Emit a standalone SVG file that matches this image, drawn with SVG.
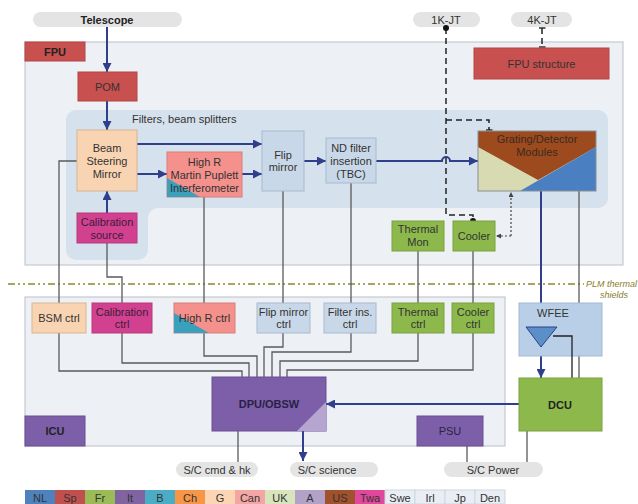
<svg xmlns="http://www.w3.org/2000/svg" width="638" height="504" viewBox="0 0 638 504">
<style>
text{font-family:"Liberation Sans",Arial,sans-serif;fill:#333;text-anchor:middle;dominant-baseline:central;font-size:11px}
text.st{text-anchor:start}
.b{font-weight:bold;fill:#222}
.area{fill:#edf1f6;stroke:#c5c9cf;stroke-width:1.2}
.pill{fill:#e4e4e4}
.red{fill:#c8504e;stroke:#b04645}
.peach{fill:#f9d4b2;stroke:#d9b594}
.mag{fill:#d2418f;stroke:#b8387c}
.sal{fill:#f4918c;stroke:#d97d79}
.teal{fill:#3aa1bd}
.lb{fill:#c9d8e8;stroke:#a9bace}
.grn{fill:#8db94c;stroke:#7aa13f}
.pur{fill:#7c5fa8;stroke:#6a4f93}
.g{fill:none;stroke:#5a5a5a;stroke-width:1.3}
.k{fill:none;stroke:#222;stroke-width:1.3}
.bl{fill:none;stroke:#2f3f8c;stroke-width:2}
.dash{fill:none;stroke:#222;stroke-width:1.5;stroke-dasharray:6 4}
.dot{fill:none;stroke:#444;stroke-width:1.2;stroke-dasharray:2 2}
.plm{fill:none;stroke:#8a8a2c;stroke-width:1.5;stroke-dasharray:7 3 2 3 2 3}
.plmt{font-size:9px;font-style:italic;fill:#8a7d2a}
.lg{stroke:#cfd6df;stroke-width:1}
</style>
<defs>
<marker id="ab" viewBox="0 0 10 10" refX="10" refY="5" markerWidth="9" markerHeight="9" markerUnits="userSpaceOnUse" orient="auto"><path d="M0,0 L10,5 L0,10 z" fill="#2f3f8c"/></marker>
<marker id="sa" viewBox="0 0 10 10" refX="10" refY="5" markerWidth="5" markerHeight="5" markerUnits="userSpaceOnUse" orient="auto"><path d="M0,0 L10,5 L0,10 z" fill="#444"/></marker>
<marker id="dt" viewBox="0 0 10 10" refX="5" refY="5" markerWidth="6" markerHeight="6" markerUnits="userSpaceOnUse"><circle cx="5" cy="5" r="5" fill="#111"/></marker>
<marker id="tb" viewBox="0 0 10 10" refX="5" refY="5" markerWidth="7" markerHeight="7" markerUnits="userSpaceOnUse" orient="auto"><path d="M5,0 V10" stroke="#222" stroke-width="2"/></marker>
</defs>

<!-- areas -->
<g id="fpu">
<rect class="area" x="25" y="42" width="598" height="223"/>
<rect class="red" x="25" y="42" width="60" height="19"/>
<text class="b" x="55" y="52" font-size="12">FPU</text>
</g>
<g id="filters">
<path d="M76,110 H598 A10,10 0 0 1 608,120 V198 A10,10 0 0 1 598,208 H158 A10,10 0 0 0 148,218 V250 A10,10 0 0 1 138,260 H76 A10,10 0 0 1 66,250 V120 A10,10 0 0 1 76,110 Z" fill="#d5e1ec"/>
<text class="st" x="132" y="119">Filters, beam splitters</text>
</g>
<g id="icu">
<rect class="area" x="25" y="297" width="480" height="149"/>
<rect class="pur" x="25" y="416" width="60" height="30"/>
<text class="b" x="55" y="431" font-size="12">ICU</text>
</g>

<!-- pills -->
<g id="telescope"><rect class="pill" x="33" y="12" width="149" height="15" rx="7.5"/><text class="b" x="107" y="20" font-size="12">Telescope</text></g>
<g id="k1jt"><rect class="pill" x="413" y="12" width="67" height="15" rx="7.5"/><text x="446" y="20" font-size="10">1K-JT</text></g>
<g id="k4jt"><rect class="pill" x="511" y="12" width="61" height="15" rx="7.5"/><text x="542" y="20" font-size="10">4K-JT</text></g>
<g id="sccmd"><rect class="pill" x="176" y="462" width="82" height="15" rx="7.5"/><text x="217" y="469.5">S/C cmd &amp; hk</text></g>
<g id="scsci"><rect class="pill" x="290" y="462" width="88" height="15" rx="7.5"/><text x="327" y="469.5">S/C science</text></g>
<g id="scpow"><rect class="pill" x="444" y="462" width="99" height="15" rx="7.5"/><text x="493" y="469.5">S/C Power</text></g>

<!-- PLM line -->
<g id="plm">
<path class="plm" d="M8,284 H584"/>
<text class="st plmt" x="586" y="284">PLM thermal</text>
<text class="plmt" x="614" y="295">shields</text>
</g>

<!-- connectors -->
<g id="connectors">
<path class="bl" d="M107,27 V72" marker-end="url(#ab)"/>
<path class="bl" d="M107,101 V130" marker-end="url(#ab)"/>
<path class="bl" d="M107,213 V191" marker-end="url(#ab)"/>
<path class="bl" d="M137,144 H262" marker-end="url(#ab)"/>
<path class="bl" d="M137,174 H167" marker-end="url(#ab)"/>
<path class="bl" d="M242,174 H262" marker-end="url(#ab)"/>
<path class="bl" d="M304,161 H326" marker-end="url(#ab)"/>
<path class="bl" d="M376,161 H442 A4,4 0 0 1 450,161 H478" marker-end="url(#ab)"/>
<path class="bl" d="M541,191 V327" marker-end="url(#ab)"/>
<path class="bl" d="M541,347 V378" marker-end="url(#ab)"/>
<path class="bl" d="M519,404 H326" marker-end="url(#ab)"/>
<path class="bl" d="M303,431 V461" marker-end="url(#ab)"/>

<path class="g" d="M77,161 H59 V303"/>
<path class="g" d="M59,333 V371 H242 V377"/>
<path class="g" d="M107,243 V277 H122 V303"/>
<path class="g" d="M122,333 V363 H249 V377"/>
<path class="g" d="M204,197 V303"/>
<path class="g" d="M204,333 V356 H257 V377"/>
<path class="g" d="M283,191 V303"/>
<path class="g" d="M283,333 V347 H264 V377"/>
<path class="g" d="M351,183 V303"/>
<path class="g" d="M351,333 V352 H272 V377"/>
<path class="g" d="M418,251 V303"/>
<path class="g" d="M418,333 V361 H280 V377"/>
<path class="g" d="M473,251 V303"/>
<path class="g" d="M473,333 V370 H287 V377"/>
<path class="g" d="M579,191 V378"/>
<path class="g" d="M238,431 V462"/>
<path class="g" d="M467,446 V462"/>
<path class="g" d="M527,431 V462"/>

<path class="dash" d="M446,28 V215 H473 V221" marker-start="url(#dt)" marker-end="url(#dt)"/>
<path class="dash" d="M446,120 H489 V130" marker-end="url(#tb)"/>
<path class="dash" d="M542,28 V47" marker-start="url(#tb)" marker-end="url(#tb)"/>
<path class="dot" d="M511,236 V192" marker-end="url(#sa)"/>
<path class="dot" d="M511,236 H496" marker-end="url(#sa)"/>
</g>

<!-- FPU nodes -->
<g id="pom"><rect class="red" x="78" y="72" width="59" height="29"/><text x="107.5" y="87">POM</text></g>
<g id="bsm"><rect class="peach" x="77" y="130" width="60" height="61"/>
<text x="107" y="148">Beam</text><text x="107" y="161">Steering</text><text x="107" y="174">Mirror</text></g>
<g id="calsrc"><rect class="mag" x="77" y="213" width="60" height="30"/>
<text x="107" y="222" style="fill:#3a1d3c">Calibration</text><text x="107" y="235" style="fill:#3a1d3c">source</text></g>
<g id="highr"><rect class="sal" x="167" y="152" width="75" height="45"/>
<path class="teal" d="M167,178 L200,197 L167,197 Z"/>
<text x="204.5" y="162">High R</text><text x="204.5" y="175">Martin Puplett</text><text x="204.5" y="188">Interferometer</text></g>
<g id="flip"><rect class="lb" x="262" y="131" width="42" height="60"/>
<text x="283" y="155">Flip</text><text x="283" y="167">mirror</text></g>
<g id="ndfilter"><rect class="lb" x="326" y="138" width="50" height="45"/>
<text x="351" y="148">ND filter</text><text x="351" y="161">insertion</text><text x="351" y="174">(TBC)</text></g>
<g id="grating">
<rect x="478" y="131" width="118" height="60" fill="#d8dbb2"/>
<path d="M478,131 H596 V147 L538,180 L478,147 Z" fill="#9c4a1e"/>
<path d="M520,191 L596,147 V191 Z" fill="#4a7fc1"/>
<rect x="478" y="131" width="118" height="60" fill="none" stroke="#8a8f96" stroke-width="1"/>
<text x="537" y="139" style="fill:#3a2a20">Grating/Detector</text><text x="537" y="152" style="fill:#3a2a20">Modules</text></g>
<g id="fpustruct"><rect class="red" x="474" y="48" width="135" height="31"/><text x="541.5" y="64" font-size="12">FPU structure</text></g>
<g id="thermalmon"><rect class="grn" x="392" y="221" width="52" height="30"/>
<text x="418" y="229">Thermal</text><text x="418" y="242">Mon</text></g>
<g id="cooler"><rect class="grn" x="453" y="221" width="42" height="30"/><text x="474" y="236">Cooler</text></g>

<!-- ICU nodes -->
<g id="bsmctrl"><rect class="peach" x="32" y="303" width="54" height="30"/><text x="59" y="318">BSM ctrl</text></g>
<g id="calctrl"><rect class="mag" x="92" y="303" width="60" height="30"/>
<text x="122" y="312" style="fill:#3a1d3c">Calibration</text><text x="122" y="324" style="fill:#3a1d3c">ctrl</text></g>
<g id="highrctrl"><rect class="sal" x="174" y="303" width="61" height="30"/>
<path class="teal" d="M174,313 L209,333 L174,333 Z"/>
<text x="204.5" y="318">High R ctrl</text></g>
<g id="flipctrl"><rect class="lb" x="257" y="303" width="53" height="30"/>
<text x="283.5" y="312">Flip mirror</text><text x="283.5" y="324">ctrl</text></g>
<g id="filterctrl"><rect class="lb" x="324" y="303" width="52" height="30"/>
<text x="350" y="312">Filter ins.</text><text x="350" y="324">ctrl</text></g>
<g id="thermalctrl"><rect class="grn" x="392" y="303" width="52" height="30"/>
<text x="418" y="312">Thermal</text><text x="418" y="324">ctrl</text></g>
<g id="coolerctrl"><rect class="grn" x="452" y="303" width="42" height="30"/>
<text x="473" y="312">Cooler</text><text x="473" y="324">ctrl</text></g>
<g id="dpu"><rect class="pur" x="212" y="377" width="114" height="54"/>
<path d="M297,431 L326,402 V431 Z" fill="#b5a5d0"/>
<text class="b" x="269" y="404" font-size="13" style="fill:#2a1f45">DPU/OBSW</text></g>
<g id="psu"><rect class="pur" x="417" y="416" width="66" height="30"/><text x="450" y="431" style="fill:#2a1f45">PSU</text></g>

<!-- WFEE / DCU -->
<g id="wfee"><rect x="519" y="303" width="83" height="53" fill="#b9cfe7" stroke="#a3b9d2"/>
<text x="553" y="313">WFEE</text>
<path d="M526,327 L557,327 L541,347 Z" fill="#5b8fc8" stroke="#2f3f8c" stroke-width="1"/></g>
<path class="k" d="M553,336 H572 V378"/>
<g id="dcu"><rect class="grn" x="519" y="378" width="83" height="53"/><text class="b" x="560" y="405" font-size="14">DCU</text></g>

<!-- legend -->
<g id="legend">
<rect x="25" y="490" width="30" height="14" fill="#4f81bd"/><text x="40" y="497.5">NL</text>
<rect x="55" y="490" width="30" height="14" fill="#c0504d"/><text x="70" y="497.5">Sp</text>
<rect x="85" y="490" width="30" height="14" fill="#9bbb59"/><text x="100" y="497.5">Fr</text>
<rect x="115" y="490" width="30" height="14" fill="#8064a2"/><text x="130" y="497.5">It</text>
<rect x="145" y="490" width="30" height="14" fill="#4bacc6"/><text x="160" y="497.5">B</text>
<rect x="175" y="490" width="30" height="14" fill="#f79646"/><text x="190" y="497.5">Ch</text>
<rect x="205" y="490" width="30" height="14" fill="#fcd5b4"/><text x="220" y="497.5">G</text>
<rect x="235" y="490" width="30" height="14" fill="#f4a6a5"/><text x="250" y="497.5">Can</text>
<rect x="265" y="490" width="30" height="14" fill="#d7e4bc"/><text x="280" y="497.5">UK</text>
<rect x="295" y="490" width="30" height="14" fill="#b3a2c7"/><text x="310" y="497.5">A</text>
<rect x="325" y="490" width="30" height="14" fill="#a0522d"/><text x="340" y="497.5">US</text>
<rect x="355" y="490" width="30" height="14" fill="#e0489b"/><text x="370" y="497.5">Twa</text>
<rect class="lg" x="385" y="490" width="30" height="14" fill="#e9eef5"/><text x="400" y="497.5">Swe</text>
<rect class="lg" x="415" y="490" width="30" height="14" fill="#e9eef5"/><text x="430" y="497.5">Irl</text>
<rect class="lg" x="445" y="490" width="30" height="14" fill="#e9eef5"/><text x="460" y="497.5">Jp</text>
<rect class="lg" x="475" y="490" width="30" height="14" fill="#e9eef5"/><text x="490" y="497.5">Den</text>
</g>
</svg>
